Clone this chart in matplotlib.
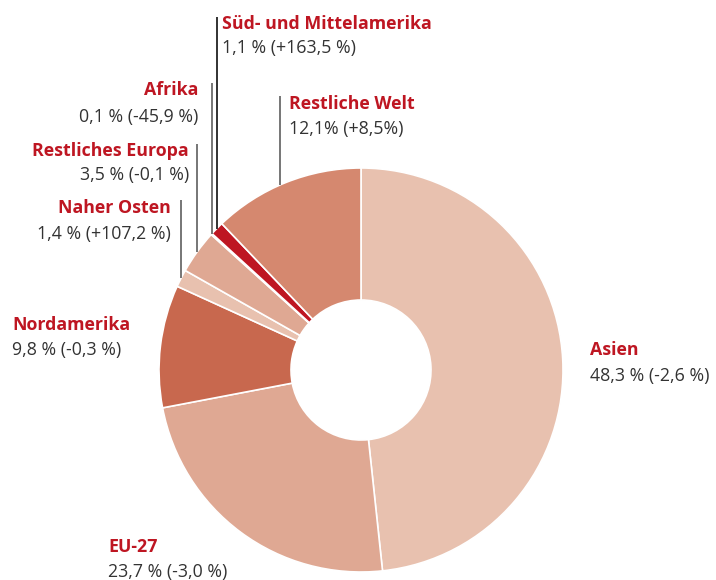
import numpy as np
import matplotlib.pyplot as plt

# Anteile nach Regionen (in %), Veränderung zum Vorjahr
regions = ["Asien", "EU-27", "Nordamerika", "Naher Osten", "Restliches Europa",
           "Afrika", "Süd- und Mittelamerika", "Restliche Welt"]
shares = [48.3, 23.7, 9.8, 1.4, 3.5, 0.1, 1.1, 12.1]
value_labels = ["48,3 % (-2,6 %)", "23,7 % (-3,0 %)", "9,8 % (-0,3 %)",
                "1,4 % (+107,2 %)", "3,5 % (-0,1 %)", "0,1 % (-45,9 %)",
                "1,1 % (+163,5 %)", "12,1% (+8,5%)"]
colors = ["#E8C1AF", "#DFA893", "#C8684E", "#E8C1AF", "#DFA893",
          "#C8684E", "#BE1622", "#D5886F"]

RED = "#BE1622"
GREY = "#333333"
H = 580

plt.rcParams['font.family'] = ['Open Sans', 'DejaVu Sans']

fig = plt.figure(figsize=(7.16, 5.8), dpi=100)
ax = fig.add_axes([0, 0, 1, 1])

cx, cy, r, r_in = 361, H - 370, 202, 70
ax.pie(shares, colors=colors, startangle=90, counterclock=False,
       center=(cx, cy), radius=r,
       wedgeprops=dict(width=r - r_in, edgecolor="white", linewidth=1.2))

# label placement: (x, title y, value y, alignment, leader line top or None)
label_pos = {
    "Asien": (590, 350, 376, "left", None),
    "EU-27": (108, 547, 572, "left", None),
    "Nordamerika": (12, 325, 350, "left", None),
    "Naher Osten": (171, 208, 234, "right", 200),
    "Restliches Europa": (189, 151, 175, "right", 144),
    "Afrika": (198, 90, 117, "right", 83),
    "Süd- und Mittelamerika": (222, 24, 48, "left", 17),
    "Restliche Welt": (289, 104, 129, "left", 96),
}

cum = np.cumsum([0] + shares)
for i, name in enumerate(regions):
    x, ty, vy, ha, top = label_pos[name]
    ax.text(x, H - ty, name, color=RED, fontsize=12.8, fontweight="bold",
            ha=ha, va="center")
    ax.text(x, H - vy, value_labels[i], color=GREY, fontsize=12.8,
            ha=ha, va="center")
    if top is not None:
        mid = (cum[i] + cum[i + 1]) / 2 / 100 * 360
        if name == "Restliche Welt":
            mid -= 2  # line sits a bit left of the slice centre
        ang = np.deg2rad(90 - mid)
        lx = cx + r * np.cos(ang)
        ly = cy + r * np.sin(ang)
        lc = "#222222" if name.startswith("Süd") else "#6B6B6B"
        ax.plot([lx, lx], [ly, H - top], color=lc, lw=1.3, solid_capstyle="butt")

ax.set_xlim(0, 716)
ax.set_ylim(0, H)
ax.set_aspect("equal")
ax.axis("off")

fig.savefig("out.png", dpi=100)
